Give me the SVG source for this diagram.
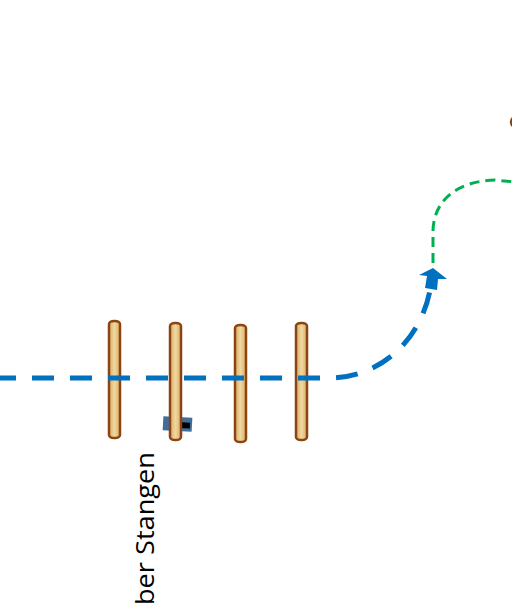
<svg xmlns="http://www.w3.org/2000/svg" width="512" height="606" viewBox="0 0 512 606">
<defs>
<linearGradient id="wood" x1="0" y1="0" x2="1" y2="0">
<stop offset="0" stop-color="#D9AE68"/>
<stop offset="0.5" stop-color="#F0D7A0"/>
<stop offset="1" stop-color="#D9AE68"/>
</linearGradient>
<style>
.pole{fill:url(#wood);stroke:#8B4513;stroke-width:2.5}
.blue{fill:none;stroke:#0070C0;stroke-width:5;stroke-dasharray:22 16}
.green{fill:none;stroke:#00B050;stroke-width:3;stroke-dasharray:10 6}
.lbl{font-family:"Open Sans","Liberation Sans",sans-serif;font-size:26px;fill:#000}
</style>
</defs>
<rect width="512" height="606" fill="#fff"/>
<g id="obstacle">
<g transform="rotate(3 178 424)">
<rect x="163" y="417" width="29" height="14" fill="#3F6E9E"/>
<rect x="179" y="422" width="11" height="6" fill="#000"/>
</g>
</g>
<g id="pole1"><rect class="pole" x="109" y="321" width="11" height="117" rx="5" ry="3"/></g>
<g id="pole2"><rect class="pole" x="170" y="323" width="11" height="117" rx="5" ry="3"/></g>
<g id="pole3"><rect class="pole" x="235" y="325" width="11" height="117" rx="5" ry="3"/></g>
<g id="pole4"><rect class="pole" x="296" y="323" width="11" height="117" rx="5" ry="3"/></g>
<g id="marker-right"><ellipse cx="518" cy="122" rx="7" ry="6" fill="none" stroke="#8B4513" stroke-width="2.5"/></g>
<g id="connectors">
<path class="blue" d="M-6,378 H330 C385,377 424,335 431,284"/>
<polygon points="433,268 447,279 438,279 437,290 425,288 427,276 419,275" fill="#0070C0"/>
<path class="green" d="M433,263 V232 C433,200 458,181 495,180 L515,182"/>
</g>
<g id="label">
<text class="lbl" transform="translate(154,452) rotate(-90)" text-anchor="end" textLength="153" lengthAdjust="spacingAndGlyphs">ber Stangen</text>
</g>
</svg>
